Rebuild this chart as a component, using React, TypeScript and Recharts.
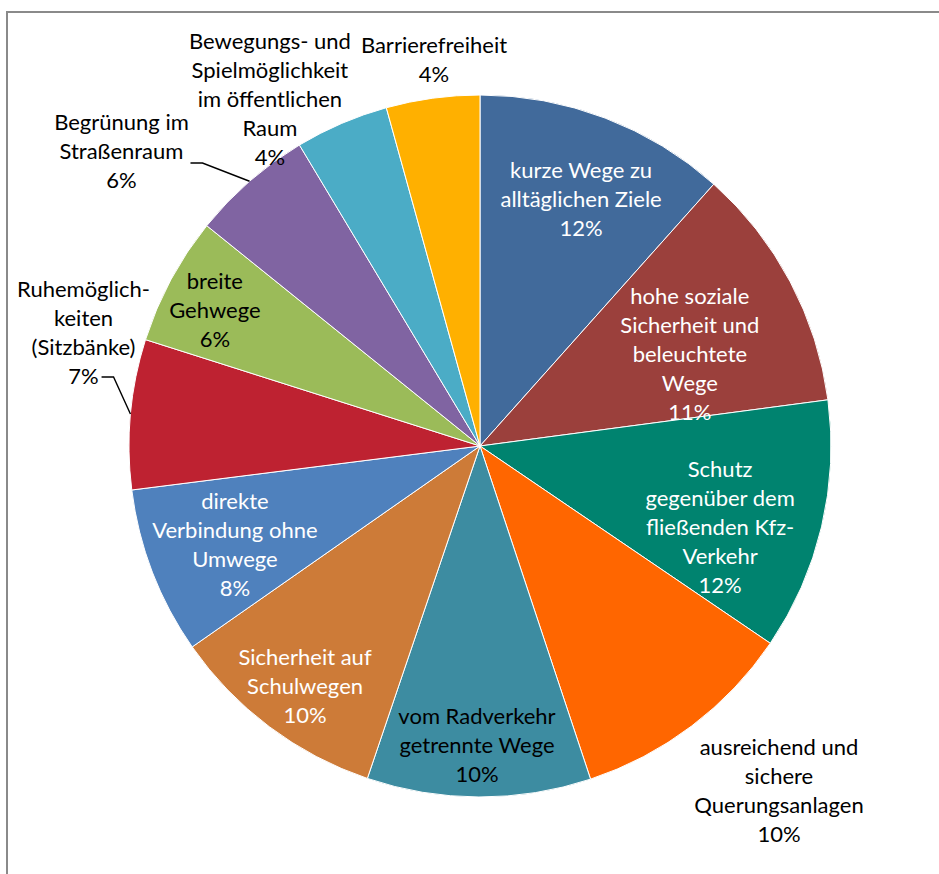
import React from "react";
import { PieChart, Pie, Cell } from "recharts";

// Kategorien (Zeilenumbrüche wie im Original)
const categories = [
  "kurze Wege zu\nalltäglichen Ziele",
  "hohe soziale\nSicherheit und\nbeleuchtete\nWege",
  "Schutz\ngegenüber dem\nfließenden Kfz-\nVerkehr",
  "ausreichend und\nsichere\nQuerungsanlagen",
  "vom Radverkehr\ngetrennte Wege",
  "Sicherheit auf\nSchulwegen",
  "direkte\nVerbindung ohne\nUmwege",
  "Ruhemöglich-\nkeiten\n(Sitzbänke)",
  "breite\nGehwege",
  "Begrünung im\nStraßenraum",
  "Bewegungs- und\nSpielmöglichkeit\nim öffentlichen\nRaum",
  "Barrierefreiheit",
];

const shares = [11.6, 11.3, 11.6, 10.4, 10.3, 10.1, 7.7, 6.9, 5.9, 5.6, 4.3, 4.3];

const colors = [
  "#416a9b", "#9b403c", "#00836f", "#ff6600", "#3d8ca1", "#cd7b38",
  "#4f81bd", "#be2231", "#9bbb59", "#8064a2", "#4bacc6", "#ffb000",
];

// label placement: shift (deg, clockwise) from slice middle, radius ratio, text colour
type Placement = { shift: number; ratio: number; fill: string; leader?: { hx: number; bx: number; by: number } };
const placement: Placement[] = [
  { shift: 1.3, ratio: 0.763, fill: "#fff" },
  { shift: 4.0, ratio: 0.654, fill: "#fff" },
  { shift: 5.1, ratio: 0.721, fill: "#fff" },
  { shift: -3.96, ratio: 1.2975, fill: "#000" },
  { shift: 0.4, ratio: 0.849, fill: "#000" },
  { shift: -0.7, ratio: 0.844, fill: "#fff" },
  { shift: -0.54, ratio: 0.751, fill: "#fff" },
  { shift: 10.95, ratio: 1.176, fill: "#000", leader: { hx: 18, bx: 30, by: 46 } },
  { shift: -0.96, ratio: 0.85, fill: "#000" },
  { shift: -9.42, ratio: 1.3245, fill: "#000", leader: { hx: 69, bx: 81, by: 13 } },
  { shift: -7.9, ratio: 1.158, fill: "#000" },
  { shift: 0.97, ratio: 1.112, fill: "#000" },
];

const RAD = Math.PI / 180;
const LINE = 29;

const data = categories.map((name, i) => ({ name, value: shares[i] }));

function renderLabel(props: any) {
  const { cx, cy, midAngle, outerRadius, index, percent } = props;
  const p = placement[index];
  const a = midAngle - p.shift;
  const r = outerRadius * p.ratio;
  const x = cx + r * Math.cos(-a * RAD);
  const y = cy + r * Math.sin(-a * RAD);
  const lines = [...categories[index].split("\n"), `${Math.round(percent * 100)}%`];
  const y0 = y - ((lines.length - 1) * LINE) / 2;
  let leader = null;
  if (p.leader) {
    const ex = cx + outerRadius * Math.cos(-midAngle * RAD);
    const ey = cy + outerRadius * Math.sin(-midAngle * RAD);
    const pts = `${ex},${ey} ${x + p.leader.bx},${y + p.leader.by} ${x + p.leader.hx},${y + p.leader.by}`;
    leader = <polyline points={pts} fill="none" stroke="#000" strokeWidth={1.4} />;
  }
  return (
    <g key={`lbl-${index}`}>
      {leader}
      <text
        x={x}
        y={y0}
        textAnchor="middle"
        dominantBaseline="central"
        fill={p.fill}
        fontSize={22}
        fontFamily="Lato, 'Open Sans', sans-serif"
      >
        {lines.map((t, i) => (
          <tspan key={i} x={x} y={y0 + i * LINE}>
            {t}
          </tspan>
        ))}
      </text>
    </g>
  );
}

export default function App() {
  return (
    <div style={{ position: "absolute", left: 0, top: 0, width: 939, height: 874, overflow: "hidden", background: "#fff" }}>
      <div
        style={{
          position: "absolute",
          left: 6,
          top: 11,
          width: 933,
          height: 863,
          boxSizing: "border-box",
          borderTop: "2px solid #8a8a8a",
          borderLeft: "2px solid #8a8a8a",
        }}
      />
      <div style={{ position: "absolute", left: 0, top: 0 }}>
        <PieChart width={939} height={874} margin={{ top: 0, right: 0, bottom: 0, left: 0 }}>
          <Pie
            data={data}
            dataKey="value"
            nameKey="name"
            cx={480}
            cy={446}
            outerRadius={351}
            startAngle={90}
            endAngle={-270}
            stroke="#fff"
            strokeWidth={1}
            label={renderLabel}
            labelLine={false}
            isAnimationActive={false}
          >
            {data.map((d, i) => (
              <Cell key={d.name} fill={colors[i]} />
            ))}
          </Pie>
        </PieChart>
      </div>
    </div>
  );
}
